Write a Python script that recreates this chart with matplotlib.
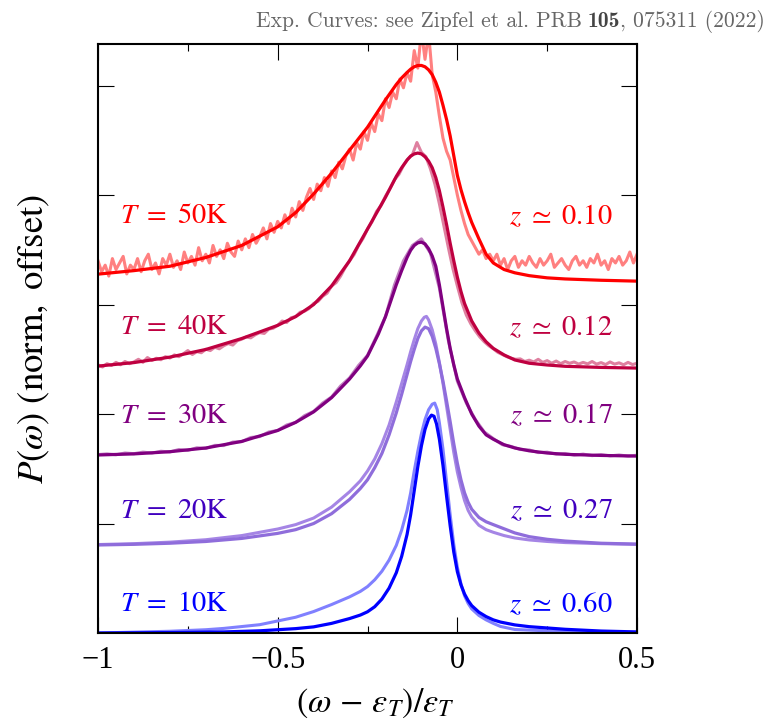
import matplotlib
matplotlib.use("Agg")
import matplotlib.pyplot as plt
from matplotlib.ticker import MultipleLocator, NullFormatter, FixedLocator

plt.rcParams["font.family"] = "serif"
plt.rcParams["font.serif"] = ["Liberation Serif", "DejaVu Serif"]
plt.rcParams["mathtext.fontset"] = "stix"

# ── data (offset already included) ────────────────────────────────────────────
temps = ["50K", "40K", "30K", "20K", "10K"]
z_vals = ["0.10", "0.12", "0.17", "0.27", "0.60"]

# fitted curves
x_fit_50 = [-1.00, -0.90, -0.80, -0.70, -0.60, -0.50, -0.45, -0.40, -0.35, -0.30, -0.25,
            -0.20, -0.17, -0.155, -0.14, -0.13, -0.12, -0.11, -0.10, -0.09, -0.08, -0.07,
            -0.06, -0.05, -0.04, -0.03, -0.02, -0.01, 0.00, 0.01, 0.02, 0.03, 0.04, 0.06,
            0.08, 0.10, 0.13, 0.16, 0.20, 0.25, 0.30, 0.40, 0.50]
y_fit_50 = [1.639, 1.655, 1.675, 1.715, 1.770, 1.855, 1.920, 2.005, 2.100, 2.205, 2.310,
            2.435, 2.505, 2.535, 2.560, 2.575, 2.586, 2.592, 2.592, 2.586, 2.572, 2.550,
            2.515, 2.470, 2.410, 2.345, 2.270, 2.180, 2.090, 2.025, 1.970, 1.920, 1.875,
            1.800, 1.730, 1.690, 1.660, 1.645, 1.632, 1.622, 1.617, 1.611, 1.607]

x_fit_40 = [-1.00, -0.90, -0.80, -0.70, -0.60, -0.50, -0.45, -0.40, -0.35, -0.30, -0.25,
            -0.20, -0.17, -0.155, -0.14, -0.13, -0.12, -0.11, -0.10, -0.09, -0.08, -0.07,
            -0.06, -0.05, -0.04, -0.03, -0.02, -0.01, 0.00, 0.01, 0.02, 0.04, 0.06, 0.08,
            0.10, 0.13, 0.16, 0.20, 0.25, 0.30, 0.40, 0.50]
y_fit_40 = [1.219, 1.235, 1.260, 1.295, 1.345, 1.405, 1.445, 1.500, 1.585, 1.700, 1.845,
            1.990, 2.085, 2.125, 2.160, 2.178, 2.188, 2.192, 2.188, 2.175, 2.155, 2.125,
            2.080, 2.020, 1.945, 1.865, 1.780, 1.700, 1.625, 1.560, 1.505, 1.425, 1.370,
            1.330, 1.300, 1.270, 1.247, 1.232, 1.224, 1.218, 1.213, 1.210]

x_fit_30 = [-1.00, -0.90, -0.80, -0.70, -0.60, -0.50, -0.45, -0.40, -0.35, -0.30, -0.27,
            -0.25, -0.22, -0.20, -0.17, -0.155, -0.14, -0.13, -0.12, -0.11, -0.10, -0.09,
            -0.08, -0.07, -0.06, -0.05, -0.04, -0.03, -0.02, -0.01, 0.00, 0.02, 0.04, 0.06,
            0.08, 0.10, 0.13, 0.16, 0.20, 0.25, 0.30, 0.40, 0.50]
y_fit_30 = [0.813, 0.818, 0.828, 0.845, 0.875, 0.925, 0.962, 1.010, 1.075, 1.160, 1.220,
            1.265, 1.365, 1.445, 1.590, 1.655, 1.715, 1.748, 1.770, 1.782, 1.785, 1.777,
            1.755, 1.722, 1.675, 1.590, 1.490, 1.390, 1.300, 1.225, 1.160, 1.075, 1.000,
            0.945, 0.905, 0.885, 0.860, 0.845, 0.832, 0.822, 0.816, 0.811, 0.808]

x_fit_20 = [-1.00, -0.90, -0.80, -0.70, -0.60, -0.50, -0.45, -0.40, -0.35, -0.30, -0.27,
            -0.25, -0.23, -0.21, -0.19, -0.17, -0.155, -0.14, -0.13, -0.12, -0.11, -0.10,
            -0.09, -0.08, -0.07, -0.06, -0.05, -0.04, -0.03, -0.02, -0.01, 0.00, 0.01, 0.02,
            0.03, 0.04, 0.06, 0.08, 0.10, 0.13, 0.16, 0.20, 0.25, 0.30, 0.40, 0.50]
y_fit_20 = [0.402, 0.405, 0.410, 0.418, 0.432, 0.455, 0.472, 0.500, 0.545, 0.610, 0.660,
            0.700, 0.755, 0.820, 0.905, 1.005, 1.090, 1.180, 1.240, 1.295, 1.345, 1.380,
            1.397, 1.390, 1.355, 1.300, 1.230, 1.150, 1.060, 0.965, 0.865, 0.775, 0.700,
            0.640, 0.597, 0.565, 0.528, 0.508, 0.495, 0.476, 0.457, 0.440, 0.428, 0.420,
            0.410, 0.406]

x_fit_10 = [-1.00, -0.80, -0.65, -0.55, -0.45, -0.40, -0.35, -0.30, -0.27, -0.25, -0.23,
            -0.21, -0.19, -0.17, -0.155, -0.14, -0.13, -0.12, -0.11, -0.10, -0.09, -0.08,
            -0.072, -0.065, -0.058, -0.05, -0.04, -0.03, -0.02, -0.01, 0.00, 0.01, 0.02,
            0.03, 0.04, 0.06, 0.08, 0.10, 0.12, 0.16, 0.20, 0.25, 0.30, 0.40, 0.50]
y_fit_10 = [0.000, 0.002, 0.005, 0.010, 0.020, 0.028, 0.044, 0.066, 0.082, 0.097, 0.120,
            0.155, 0.205, 0.275, 0.350, 0.450, 0.540, 0.650, 0.760, 0.855, 0.930, 0.978,
            0.995, 0.990, 0.955, 0.885, 0.765, 0.625, 0.490, 0.370, 0.280, 0.220, 0.178,
            0.148, 0.125, 0.095, 0.075, 0.060, 0.050, 0.037, 0.029, 0.023, 0.017, 0.009,
            0.005]

# experimental curves
x_exp_50 = [round(-1 + 0.01 * i, 3) for i in range(151)]
y_exp_50 = [1.70, 1.65, 1.68, 1.63, 1.71, 1.66, 1.69, 1.72, 1.64, 1.68,
            1.66, 1.71, 1.65, 1.70, 1.73, 1.66, 1.69, 1.64, 1.71, 1.68,
            1.73, 1.67, 1.70, 1.66, 1.74, 1.69, 1.72, 1.68, 1.76, 1.70,
            1.73, 1.69, 1.77, 1.72, 1.75, 1.71, 1.78, 1.74, 1.72, 1.79,
            1.75, 1.80, 1.76, 1.82, 1.78, 1.81, 1.85, 1.80, 1.87, 1.83,
            1.88, 1.85, 1.91, 1.87, 1.94, 1.90, 1.97, 1.93, 1.99, 2.03,
            1.98, 2.05, 2.02, 2.08, 2.04, 2.11, 2.08, 2.15, 2.12, 2.18,
            2.21, 2.16, 2.24, 2.21, 2.29, 2.25, 2.33, 2.29, 2.37, 2.34,
            2.44, 2.40, 2.47, 2.44, 2.53, 2.49, 2.56, 2.52, 2.66, 2.58,
            2.75, 2.62, 2.74, 2.55, 2.47, 2.36, 2.26, 2.20, 2.16, 2.08,
            2.00, 1.93, 1.87, 1.82, 1.79, 1.76, 1.73, 1.75, 1.71, 1.73,
            1.70, 1.73, 1.68, 1.71, 1.66, 1.70, 1.72, 1.67, 1.70, 1.68,
            1.72, 1.69, 1.67, 1.71, 1.68, 1.70, 1.73, 1.67, 1.69, 1.71,
            1.68, 1.66, 1.70, 1.72, 1.68, 1.70, 1.67, 1.71, 1.69, 1.73,
            1.68, 1.70, 1.66, 1.71, 1.69, 1.72, 1.68, 1.70, 1.74, 1.69,
            1.73]

x_exp_40 = [round(-1 + 0.0125 * i, 4) for i in range(121)]
y_exp_40 = [1.225, 1.215, 1.230, 1.222, 1.236, 1.225, 1.240, 1.230, 1.238, 1.250, 1.236,
            1.258, 1.245, 1.255, 1.248, 1.262, 1.256, 1.270, 1.262, 1.275, 1.290, 1.272,
            1.285, 1.280, 1.296, 1.290, 1.305, 1.298, 1.312, 1.322, 1.315, 1.335, 1.342,
            1.352, 1.348, 1.362, 1.372, 1.368, 1.388, 1.392, 1.405, 1.425, 1.418, 1.440,
            1.445, 1.465, 1.470, 1.482, 1.505, 1.515, 1.538, 1.552, 1.585, 1.600, 1.630,
            1.668, 1.700, 1.728, 1.770, 1.802, 1.845, 1.878, 1.925, 1.952, 1.995, 2.030,
            2.070, 2.095, 2.135, 2.165, 2.185, 2.240, 2.195, 2.175, 2.120, 2.050, 1.960,
            1.860, 1.760, 1.665, 1.585, 1.510, 1.452, 1.412, 1.380, 1.352, 1.330, 1.312,
            1.298, 1.282, 1.272, 1.262, 1.255, 1.250, 1.252, 1.240, 1.246, 1.238, 1.250,
            1.236, 1.244, 1.232, 1.242, 1.230, 1.240, 1.232, 1.238, 1.228, 1.236, 1.229,
            1.240, 1.228, 1.235, 1.226, 1.238, 1.228, 1.234, 1.225, 1.236, 1.226, 1.232]

x_exp_30 = [round(-1 + 0.025 * i, 3) for i in range(61)]
y_exp_30 = [0.815, 0.818, 0.814, 0.822, 0.819, 0.826, 0.822, 0.830, 0.827, 0.838, 0.834,
            0.846, 0.843, 0.857, 0.856, 0.872, 0.874, 0.893, 0.897, 0.918, 0.925, 0.950,
            0.962, 0.993, 1.012, 1.050, 1.078, 1.128, 1.165, 1.222, 1.268, 1.355, 1.445,
            1.590, 1.700, 1.770, 1.800, 1.735, 1.575, 1.335, 1.150, 1.050, 0.975, 0.918,
            0.888, 0.860, 0.852, 0.838, 0.836, 0.824, 0.826, 0.817, 0.820, 0.812, 0.817,
            0.810, 0.815, 0.809, 0.813, 0.808, 0.812]

x_exp_20 = [-1.00, -0.90, -0.80, -0.70, -0.60, -0.50, -0.45, -0.40, -0.35, -0.30, -0.27,
            -0.25, -0.23, -0.21, -0.19, -0.17, -0.155, -0.14, -0.13, -0.12, -0.11, -0.10,
            -0.092, -0.086, -0.08, -0.07, -0.06, -0.05, -0.04, -0.03, -0.02, -0.01, 0.00,
            0.01, 0.02, 0.03, 0.04, 0.06, 0.08, 0.10, 0.13, 0.16, 0.20, 0.25, 0.30, 0.40,
            0.50]
y_exp_20 = [0.404, 0.408, 0.415, 0.426, 0.445, 0.475, 0.495, 0.525, 0.575, 0.645, 0.695,
            0.740, 0.795, 0.865, 0.950, 1.055, 1.140, 1.225, 1.285, 1.340, 1.390, 1.425,
            1.442, 1.446, 1.430, 1.385, 1.320, 1.235, 1.140, 1.035, 0.930, 0.825, 0.735,
            0.665, 0.605, 0.560, 0.530, 0.492, 0.472, 0.460, 0.445, 0.434, 0.425, 0.418,
            0.413, 0.408, 0.405]

x_exp_10 = [-1.00, -0.90, -0.80, -0.70, -0.65, -0.55, -0.45, -0.40, -0.35, -0.30, -0.27,
            -0.25, -0.23, -0.21, -0.19, -0.17, -0.155, -0.14, -0.13, -0.12, -0.11, -0.10,
            -0.09, -0.08, -0.07, -0.063, -0.056, -0.05, -0.04, -0.03, -0.02, -0.01, 0.00,
            0.01, 0.02, 0.03, 0.04, 0.06, 0.08, 0.10, 0.12, 0.16, 0.25, 0.35, 0.50]
y_exp_10 = [0.000, 0.004, 0.008, 0.015, 0.021, 0.038, 0.072, 0.098, 0.130, 0.165, 0.190,
            0.212, 0.243, 0.282, 0.333, 0.400, 0.470, 0.560, 0.640, 0.740, 0.830, 0.910,
            0.975, 1.020, 1.045, 1.050, 1.020, 0.960, 0.840, 0.690, 0.540, 0.405, 0.300,
            0.225, 0.170, 0.135, 0.110, 0.080, 0.060, 0.044, 0.030, 0.016, 0.010, 0.006,
            0.003]

# label heights (data units)
label_y = [1.90, 1.395, 0.99, 0.555, 0.13]

# ── styling ───────────────────────────────────────────────────────────────────
FIT_COLORS = ["#ff0000", "#bf0040", "#800080", "#8f6ddb", "#0000ff"]
EXP_COLORS = ["#ff8080", "#df80a0", "#c080c0", "#a585e5", "#8080ff"]
TXT_COLORS = ["#ff0000", "#bf0040", "#800080", "#4000bf", "#0000ff"]

fits = [(x_fit_50, y_fit_50), (x_fit_40, y_fit_40), (x_fit_30, y_fit_30),
        (x_fit_20, y_fit_20), (x_fit_10, y_fit_10)]
exps = [(x_exp_50, y_exp_50), (x_exp_40, y_exp_40), (x_exp_30, y_exp_30),
        (x_exp_20, y_exp_20), (x_exp_10, y_exp_10)]

fig = plt.figure(figsize=(7.73, 7.19), dpi=100)
ax = fig.add_axes([0.1268, 0.1196, 0.6973, 0.8192])

for (xe, ye), (xf, yf), ce, cf in zip(exps, fits, EXP_COLORS, FIT_COLORS):
    ax.plot(xe, ye, color=ce, lw=2.2, solid_joinstyle="round")
    ax.plot(xf, yf, color=cf, lw=2.3, solid_joinstyle="round")

for t, z, yl, c in zip(temps, z_vals, label_y, TXT_COLORS):
    ax.text(-0.94, yl, r"$T\ =\ \mathrm{%s}$" % t, color=c, fontsize=20.5,
            va="center", ha="left")
    ax.text(0.433, yl, r"$z\ \simeq\ \mathrm{%s}$" % z, color=c, fontsize=20.5,
            va="center", ha="right")

ax.set_xlim(-1, 0.5)
ax.set_ylim(0, 2.69)

ax.xaxis.set_major_locator(MultipleLocator(0.5))
ax.xaxis.set_minor_locator(MultipleLocator(0.25))
ax.xaxis.set_major_formatter(plt.FuncFormatter(
    lambda v, p: {-1.0: "\u22121", -0.5: "\u22120.5", 0.0: "0", 0.5: "0.5"}.get(round(v, 2), "")))
ax.yaxis.set_major_locator(FixedLocator([0.5, 1.0, 1.5, 2.0, 2.5]))
ax.yaxis.set_major_formatter(NullFormatter())

ax.tick_params(which="both", direction="in", top=True, right=True, width=0.8)
ax.tick_params(which="major", length=11.5, labelsize=22, pad=9)
ax.tick_params(which="minor", length=5)
for s in ax.spines.values():
    s.set_linewidth(1.5)

ax.set_xlabel(r"$(\omega\, -\, \varepsilon_T)/\varepsilon_T$", fontsize=24.5)
ax.xaxis.label.set_va("center")
ax.xaxis.set_label_coords(0.514, -0.119)
ax.set_ylabel(r"$P(\omega)\ \mathrm{(norm,\ offset)}$", fontsize=26.5)
ax.yaxis.label.set_va("center")
ax.yaxis.set_label_coords(-0.117, 0.5)

# title: Computer-Modern look, bold volume number, right aligned
r = fig.canvas.get_renderer()
x_r, y_b = 0.99, 0.962
t3 = fig.text(x_r, y_b, ", 075311 (2022)", family="cmr10", fontsize=15.5,
              color="#666666", ha="right", va="baseline")
w3 = t3.get_window_extent(r).width / fig.bbox.width
t2 = fig.text(x_r - w3, y_b, "105", family="cmb10", fontsize=15.5,
              color="#444444", ha="right", va="baseline")
w2 = t2.get_window_extent(r).width / fig.bbox.width
fig.text(x_r - w3 - w2 - 0.008, y_b, "Exp. Curves: see Zipfel et al. PRB", family="cmr10",
         fontsize=15.5, color="#666666", ha="right", va="baseline")

fig.savefig("out.png", dpi=100)
plt.close(fig)
